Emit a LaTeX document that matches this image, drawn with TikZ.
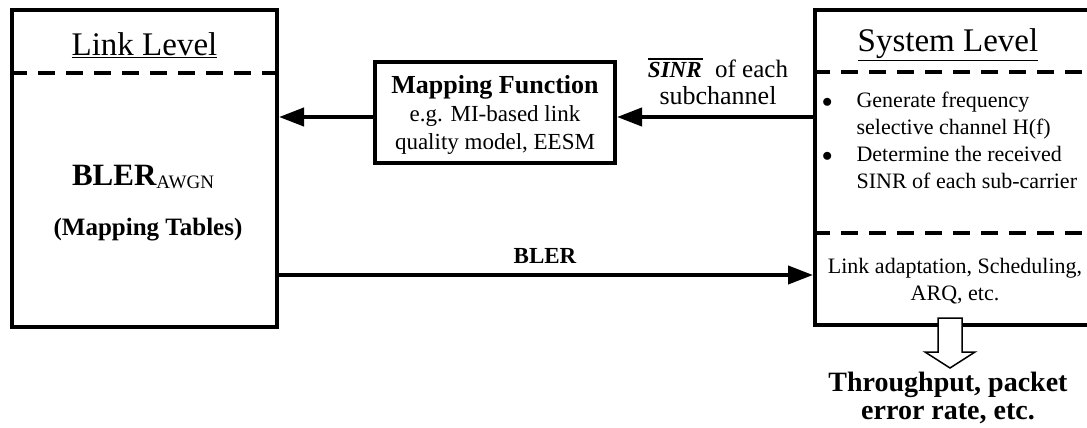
\documentclass[tikz,border=0pt]{standalone}
\usepackage{fontspec}
\setmainfont{Liberation Serif}
\usetikzlibrary{arrows.meta,calc}
\begin{document}
\begin{tikzpicture}[x=1pt,y=-1pt,
  box/.style={draw,line width=4pt,inner sep=0pt},
  dashline/.style={line width=4pt,dash pattern=on 17pt off 11pt},
  arr/.style={line width=4pt,-{Triangle[length=25pt,width=18pt]}},
  txt/.style={inner sep=0pt,font=\fontsize{22}{27}\selectfont},
  hollow/.style={line width=1.5pt,fill=white,line join=miter}
]
\useasboundingbox (0,0) rectangle (1087,428);
\clip (0,0) rectangle (1087,428);
% boxes
\node[box,minimum width=265pt,minimum height=317pt] (link) at (144.5,168.5) {};
\node[box,minimum width=290pt,minimum height=315pt] (sys) at (960,167.5) {};
\node[box,minimum width=240pt,minimum height=101pt] (map) at (495,112.5) {};
% dashed separators
\coordinate (d1) at (0,73);
\coordinate (d2) at (0,72);
\coordinate (d3) at (0,233);
\coordinate (rEnd) at (1090,0);
\draw[dashline] (link.west |- d1) -- (link.east |- d1);
\draw[dashline] (sys.west |- d2) -- (rEnd |- d2);
\draw[dashline] (sys.west |- d3) -- (rEnd |- d3);
% arrows
\coordinate (yA) at (0,117);
\coordinate (yB) at (0,275);
\draw[arr] (sys.west |- yA) -- (map.east |- yA);
\draw[arr] (map.west |- yA) -- (link.east |- yA);
\draw[arr] (link.east |- yB) -- (sys.west |- yB);
% hollow output arrow
\draw[hollow] (938,318) -- (962,318) -- (962,352) -- (975,352) -- (950,368) -- (925,352) -- (938,352) -- cycle;
% texts
\node[txt,font=\fontsize{33}{40}\selectfont] (lltitle) at (144.5,45) {\underline{Link Level}};
\node[txt,font=\fontsize{33}{40}\selectfont] (sltitle) at (948,45) {\underline{System Level}};
\node[inner sep=0pt] (bler) at (143,177) {\fontsize{31}{36}\selectfont\bfseries BLER\raisebox{-3pt}{\fontsize{19}{22}\selectfont\mdseries AWGN}};
\node[inner sep=0pt] (mt) at (148,230) {\fontsize{25}{30}\selectfont\bfseries (Mapping Tables)};
\node[inner sep=0pt,align=center,font=\fontsize{23}{28}\selectfont] (maptxt) at (495,115) {{\fontsize{26}{28}\selectfont\bfseries Mapping Function}\\e.g. MI-based link\\quality model, EESM};
\node[inner sep=0pt,align=center,font=\fontsize{25}{27}\selectfont] (sinr) at (718,81.5) {\leavevmode\vbox{\hrule height 1.8pt\kern 2pt\hbox{\fontsize{23}{27}\selectfont\bfseries\itshape SINR\kern1pt}}\ \ of each\\{\fontsize{26}{27}\selectfont subchannel}};
\node[txt,anchor=west] (bul) at (822,142.5) {\begin{tabular}{@{}l@{\hspace{24pt}}l@{}}$\bullet$ & Generate frequency\\ & selective channel H(f)\\ $\bullet$ & Determine the received\\ & SINR of each sub-carrier\end{tabular}};
\node[txt,align=center] (la) at (955,281.5) {Link adaptation, Scheduling,\\ARQ, etc.};
\node[inner sep=0pt,font=\fontsize{23}{27}\selectfont\bfseries] (blerlbl) at (545,256) {BLER};
\node[inner sep=0pt,align=center,font=\fontsize{28}{28}\selectfont\bfseries] (thr) at (948,398) {Throughput, packet\\error rate, etc.};
\end{tikzpicture}
\end{document}
